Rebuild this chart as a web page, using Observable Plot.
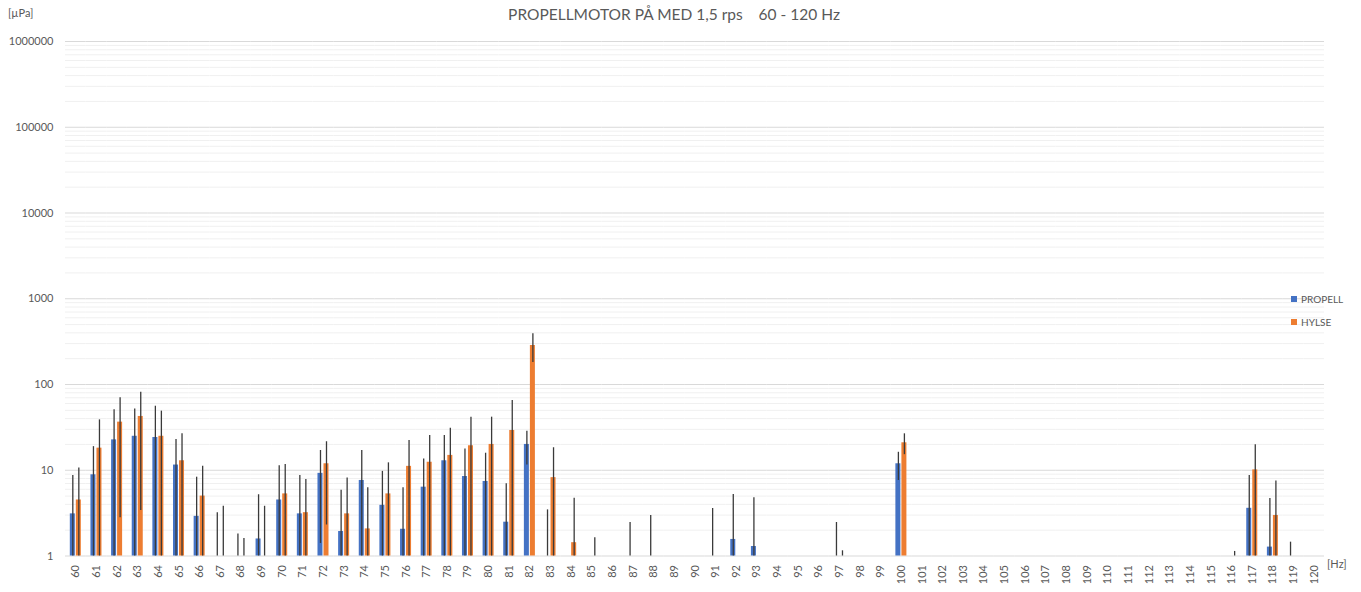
<!DOCTYPE html>
<html>
<head>
<meta charset="utf-8">
<script src="https://cdn.jsdelivr.net/npm/d3@7"></script>
<script src="https://cdn.jsdelivr.net/npm/@observablehq/plot@0.6"></script>
<style>
  html, body { margin: 0; padding: 0; background: #fff; }
  #wrap { position: relative; width: 1361px; height: 592px; font-family: Lato, "Open Sans", sans-serif; color: #595959; }
  #title { position: absolute; left: 0; top: 5px; width: 1348px; text-align: center; font-size: 15.5px; white-space: pre; }
  #yunit { position: absolute; left: 8px; top: 6px; font-size: 11px; }
  #xunit { position: absolute; left: 1327px; top: 557px; font-size: 11px; }
  #legend { position: absolute; left: 1291px; top: 291px; font-size: 10px; }
  .li { display: flex; align-items: center; height: 15px; margin-bottom: 8px; }
  .sw { width: 6px; height: 6px; margin-right: 4px; }
</style>
</head>
<body>
<div id="wrap">
  <div id="chart"></div>
  <div id="title">PROPELLMOTOR PÅ MED 1,5 rps    60 - 120 Hz</div>
  <div id="yunit">[µPa]</div>
  <div id="xunit">[Hz]</div>
  <div id="legend"></div>
</div>
<script>
const hz = [60,61,62,63,64,65,66,67,68,69,70,71,72,73,74,75,76,77,78,79,80,81,82,83,84,85,86,87,88,89,90,
  91,92,93,94,95,96,97,98,99,100,101,102,103,104,105,106,107,108,109,110,111,112,113,114,115,116,117,118,119,120];
const series = ["PROPELL", "HYLSE"];
const colors = ["#4472C4", "#ED7D31"];

// values (0 = not visible on log axis)
const propell = [3.1,8.85,22.6,24.9,24.1,11.5,2.9,0,0,1.58,4.5,3.1,9.2,1.93,7.6,3.9,2.05,6.35,12.9,8.45,7.4,2.48,20,0,0,0,0,0,0,0,0,
  0,1.56,1.29,0,0,0,0,0,0,11.9,0,0,0,0,0,0,0,0,0,0,0,0,0,0,0,0,3.6,1.27,0,0];
const propellErr = [5.6,10,28,27,31.7,11.3,5.4,3.2,1.8,3.6,6.8,5.6,7.8,3.9,9.4,5.8,4.2,7.2,12.5,9.2,8.4,4.5,8.5,3.45,0,0,0,2.46,2.97,0,0,
  3.58,3.64,3.5,0,0,0,2.46,0,0,4.3,0,0,0,0,0,0,0,0,0,0,0,0,0,0,0,0,5.1,3.4,1.45,0];
const hylse = [4.5,18.1,36.4,42.4,24.9,12.9,5.0,0,0,0,5.3,3.2,11.9,3.1,2.07,5.3,11.1,12.4,14.9,19.3,20,29.1,285,8.2,1.43,0,0,0,0,0,0,
  0,0,0,0,0,0,0,0,0,20.9,0,0,0,0,0,0,0,0,0,0,0,0,0,0,0,0,10.1,2.97,0,0];
const hylseErr = [6.1,20.6,33.6,39,24,13.7,6.1,3.8,1.6,3.8,6.4,4.6,9.6,5,4.2,6.9,11.1,13,16,22.3,21.6,36,105,10.1,3.3,1.63,0,0,0,0,0,
  0,0,0,0,0,0,1.15,0,0,5.7,0,0,0,0,0,0,0,0,0,0,0,0,0,0,0,1.13,9.7,4.5,0,0];

const yTicks = [1, 10, 100, 1000, 10000, 100000, 1000000];

const rows = [];
hz.forEach((h, i) => {
  rows.push({hz: h, series: "PROPELL", value: propell[i], err: propellErr[i]});
  rows.push({hz: h, series: "HYLSE", value: hylse[i], err: hylseErr[i]});
});

const minor = [];
for (let k = 0; k < 6; k++) for (let m = 2; m <= 9; m++) minor.push(m * Math.pow(10, k));

const chart = Plot.plot({
  width: 1361,
  height: 592,
  marginLeft: 65,
  marginRight: 37,
  marginTop: 41,
  marginBottom: 36.5,
  style: {fontFamily: "Lato, 'Open Sans', sans-serif", fontSize: "11px", color: "#595959", background: "transparent"},
  fx: {domain: hz, padding: 0, round: false, tickRotate: -90, tickSize: 0, tickPadding: 9, label: null},
  x: {domain: series, axis: null, paddingInner: 0.167, paddingOuter: 0.8, round: false},
  y: {type: "log", domain: [1, 1000000], ticks: yTicks, tickFormat: d => String(d), tickSize: 0, tickPadding: 12, label: null},
  color: {domain: series, range: colors},
  marks: [
    Plot.ruleY(minor, {stroke: "#f0f0f0", strokeWidth: 1}),
    Plot.ruleY(yTicks, {stroke: "#d9d9d9", strokeWidth: 1}),
    Plot.barY(rows, {fx: "hz", x: "series", y1: 1, y2: d => Math.max(1, d.value), fill: "series"}),
    Plot.ruleX(rows.filter(d => d.err > 0), {fx: "hz", x: "series", y1: d => Math.max(1, d.value - d.err), y2: d => d.value + d.err, stroke: "#3a3a3a", strokeWidth: 1.3})
  ]
});
document.getElementById("chart").appendChild(chart);

const legend = document.getElementById("legend");
series.forEach((s, i) => {
  const row = document.createElement("div");
  row.className = "li";
  const sw = document.createElement("div");
  sw.className = "sw";
  sw.style.background = colors[i];
  const t = document.createElement("span");
  t.textContent = s;
  row.appendChild(sw);
  row.appendChild(t);
  legend.appendChild(row);
});
</script>
</body>
</html>
